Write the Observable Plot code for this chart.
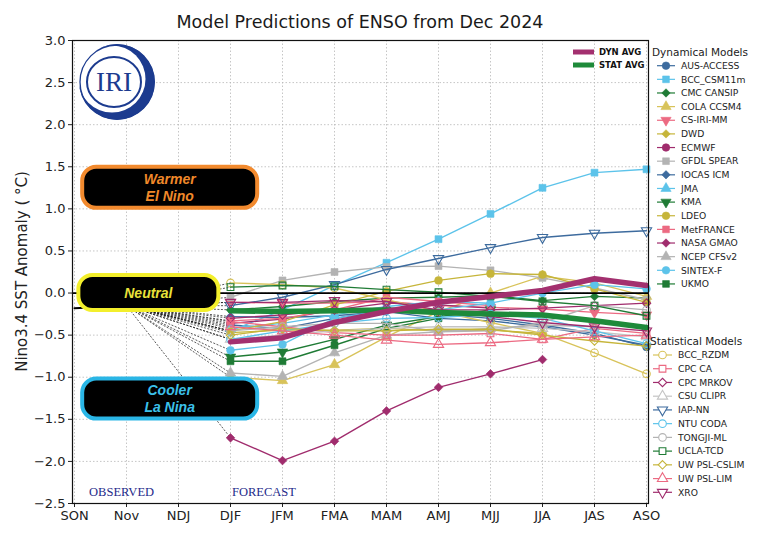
<!DOCTYPE html>
<html><head><meta charset="utf-8">
<script src="https://cdn.jsdelivr.net/npm/d3@7"></script>
<script src="https://cdn.jsdelivr.net/npm/@observablehq/plot@0.6"></script>
<style>
body{margin:0;background:#fff;width:760px;height:540px;overflow:hidden;font-family:"DejaVu Sans",sans-serif;}
#title{height:30px;width:720px;box-sizing:border-box;padding-top:14px;text-align:center;font-size:17.5px;color:#1a1a1a;line-height:17px;}
#chart svg{display:block;}
</style></head><body>
<div id="title">Model Predictions of ENSO from Dec 2024</div>
<div id="chart"></div>
<script>
// ---------- data ----------
const seasons = ["SON","Nov","NDJ","DJF","JFM","FMA","MAM","AMJ","MJJ","JJA","JAS","ASO"];
const forecastSeasons = ["DJF","JFM","FMA","MAM","AMJ","MJJ","JJA","JAS","ASO"];
const yTicks = [-2.5,-2,-1.5,-1,-0.5,0,0.5,1,1.5,2,2.5,3];
const observedSeasons = ["SON","Nov"];
const observedValues = [-0.18,-0.15];

const dynNames = ["AUS-ACCESS","BCC_CSM11m","CMC CANSIP","COLA CCSM4","CS-IRI-MM","DWD","ECMWF","GFDL SPEAR","IOCAS ICM","JMA","KMA","LDEO","MetFRANCE","NASA GMAO","NCEP CFSv2","SINTEX-F","UKMO"];
const dynValues = [
  [-0.38,-0.42,-0.30,-0.20,-0.25,-0.30,-0.38,-0.48,-0.64],
  [-0.45,-0.20,0.09,0.36,0.64,0.94,1.25,1.43,1.47],
  [-0.20,-0.16,-0.10,-0.06,-0.05,-0.03,-0.09,-0.04,-0.06],
  [-1.00,-1.04,-0.85,-0.52,-0.22,0.00,0.20,0.12,-0.04],
  [-0.11,-0.12,-0.12,-0.10,-0.15,-0.17,-0.19,-0.23,-0.26],
  [-0.47,-0.44,-0.44,-0.42,-0.45,-0.44,-0.48,null,null],
  [-0.36,-0.31,-0.20,-0.12,-0.14,-0.18,null,null,null],
  [-0.05,0.15,0.25,0.31,0.32,0.27,0.18,0.06,-0.08],
  [-0.28,-0.29,-0.27,-0.22,-0.30,-0.33,-0.40,-0.50,-0.62],
  [-0.42,-0.36,-0.26,-0.16,-0.10,-0.12,null,null,null],
  [-0.76,-0.70,-0.55,-0.38,-0.28,-0.20,null,null,null],
  [-0.45,-0.34,-0.14,0.02,0.15,0.23,0.22,0.05,-0.11],
  [-0.33,-0.30,-0.20,-0.05,-0.10,-0.15,null,null,null],
  [-1.72,-1.99,-1.76,-1.40,-1.12,-0.96,-0.79,null,null],
  [-0.95,-0.99,-0.71,-0.50,-0.46,-0.42,-0.38,-0.40,null],
  [-0.68,-0.61,-0.30,-0.20,-0.20,-0.12,0.00,0.10,0.05],
  [-0.81,-0.81,-0.62,-0.42,-0.30,null,null,null,null]
];
const statNames = ["BCC_RZDM","CPC CA","CPC MRKOV","CSU CLIPR","IAP-NN","NTU CODA","TONGJI-ML","UCLA-TCD","UW PSL-CSLIM","UW PSL-LIM","XRO"];
const statValues = [
  [0.12,0.10,0.06,-0.08,-0.22,-0.35,-0.48,-0.71,-0.96],
  [-0.34,-0.40,-0.47,-0.50,-0.50,-0.48,-0.55,-0.42,-0.48],
  [-0.30,-0.26,-0.20,-0.18,-0.20,-0.20,-0.18,-0.15,-0.12],
  [-0.55,-0.50,-0.45,-0.42,-0.40,-0.40,-0.42,-0.46,-0.52],
  [-0.15,-0.05,0.10,0.28,0.41,0.54,0.66,0.71,0.74],
  [-0.55,-0.45,-0.36,-0.30,-0.29,-0.25,-0.30,-0.45,-0.60],
  [-0.45,-0.40,-0.36,-0.36,-0.46,-0.45,-0.35,-0.15,-0.20],
  [0.07,0.09,0.08,0.04,0.01,-0.04,-0.10,-0.15,-0.27],
  [-0.50,-0.42,-0.45,-0.45,-0.43,-0.43,-0.50,-0.57,-0.63],
  [-0.40,-0.45,-0.50,-0.56,-0.61,-0.59,-0.55,-0.52,-0.50],
  [-0.11,-0.11,-0.09,-0.10,-0.20,-0.28,-0.35,-0.40,-0.45]
];
const dynAvg = [-0.58,-0.53,-0.35,-0.22,-0.11,-0.04,0.03,0.17,0.09];
const statAvg = [-0.21,-0.22,-0.21,-0.20,-0.23,-0.25,-0.26,-0.33,-0.41];

// ---------- styles ----------
const sqrt3 = Math.sqrt(3);
const triangleDown = {draw(ctx, size){ const y = -Math.sqrt(size/(sqrt3*3)); ctx.moveTo(0,-y*2); ctx.lineTo(-sqrt3*y,y); ctx.lineTo(sqrt3*y,y); ctx.closePath(); }};
const symMap = {circle: d3.symbolCircle, square: d3.symbolSquare, diamond2: d3.symbolDiamond2, triangle: d3.symbolTriangle, tdown: triangleDown};
const C = {blue:"#3d6b9e", cyan:"#5cc3ea", green:"#1f7b35", gold:"#d8c35a", pink:"#ec6a82", olive:"#c6b53a", mag:"#a02c6d", gray:"#b3b3b3", lgray:"#c4c4c4"};
const dynColors = [C.blue,C.cyan,C.green,C.gold,C.pink,C.olive,C.mag,C.gray,C.blue,C.cyan,C.green,C.olive,C.pink,C.mag,C.gray,C.cyan,C.green];
const dynSymbols = ["circle","square","diamond2","triangle","tdown","diamond2","circle","square","diamond2","triangle","tdown","circle","square","diamond2","triangle","circle","square"];
const statColors = [C.gold,C.pink,C.mag,C.lgray,C.blue,C.cyan,C.gray,C.green,C.olive,C.pink,C.mag];
const statSymbols = ["circle","square","diamond2","triangle","tdown","circle","circle","square","diamond2","triangle","tdown"];

function rowsOf(vals){ return vals.map((v,i)=>({s: forecastSeasons[i], v})).filter(d=>d.v!=null); }

const marks = [];
// grid
marks.push(Plot.ruleY(yTicks, {stroke:"#b8b8b8", strokeWidth:0.8, strokeDasharray:"1.5,2"}));
marks.push(Plot.ruleX(seasons, {x: d=>d, stroke:"#b8b8b8", strokeWidth:0.8, strokeDasharray:"1.5,2"}));
// dashed links from observation to first forecast
const linkRows = dynValues.concat(statValues).map(v=>({x1:"Nov", y1:observedValues[1], x2:"DJF", y2:v[0]}));
marks.push(Plot.link(linkRows, {x1:"x1", y1:"y1", x2:"x2", y2:"y2", stroke:"#111", strokeWidth:0.7, strokeDasharray:"2,1.5"}));
// observed
marks.push(Plot.line(observedSeasons.map((s,i)=>({s, v:observedValues[i]})), {x:"s", y:"v", stroke:"black", strokeWidth:2}));
// models
dynValues.forEach((vals,k)=>{
  const r = rowsOf(vals);
  marks.push(Plot.line(r, {x:"s", y:"v", stroke:dynColors[k], strokeWidth:1.35}));
  marks.push(Plot.dot(r, {x:"s", y:"v", symbol: symMap[dynSymbols[k]], r:3.9, fill:dynColors[k], stroke:dynColors[k], strokeWidth:0.6}));
});
statValues.forEach((vals,k)=>{
  const r = rowsOf(vals);
  marks.push(Plot.line(r, {x:"s", y:"v", stroke:statColors[k], strokeWidth:1.35}));
  marks.push(Plot.dot(r, {x:"s", y:"v", symbol: symMap[statSymbols[k]], r:3.8, fill:"none", stroke:statColors[k], strokeWidth:1.1}));
});
// zero line
marks.push(Plot.ruleY([0], {stroke:"black", strokeWidth:1.8}));
// averages
marks.push(Plot.line(rowsOf(statAvg), {x:"s", y:"v", stroke:"#1e8a3a", strokeWidth:5.5}));
marks.push(Plot.line(rowsOf(dynAvg), {x:"s", y:"v", stroke:"#a3306f", strokeWidth:5.5}));
marks.push(Plot.frame({stroke:"#111", strokeWidth:1.2}));

// overlay: logo, category boxes, labels, legends
function overlay(index, scales, values, dims){
  const {width, height, marginLeft, marginRight, marginTop, marginBottom} = dims;
  const sx = scales.x, sy = scales.y;
  const step = sx(seasons[1]) - sx(seasons[0]);
  const x0 = sx(seasons[0]);
  const g = d3.create("svg:g").attr("text-anchor","start").attr("font-family","DejaVu Sans, sans-serif");
  // IRI logo
  const lx = marginLeft + 45, ly = marginTop + 42;
  const logo = g.append("g");
  logo.append("circle").attr("cx",lx).attr("cy",ly).attr("r",38).attr("fill","#1c3b8f");
  logo.append("circle").attr("cx",lx-5).attr("cy",ly-3).attr("r",33.5).attr("fill","white");
  logo.append("circle").attr("cx",lx).attr("cy",ly).attr("r",37).attr("fill","none").attr("stroke","#1c3b8f").attr("stroke-width",1.3);
  logo.append("ellipse").attr("cx",lx-3).attr("cy",ly).attr("rx",27).attr("ry",25).attr("fill","none").attr("stroke","#1c3b8f").attr("stroke-width",2);
  logo.append("text").attr("x",lx-3).attr("y",ly+9).attr("text-anchor","middle").attr("font-family","Liberation Serif, serif").attr("font-size",27).attr("fill","#1c3b8f").text("IRI");
  // boxes
  const boxes = [
    {cx: x0+1.84*step, cy: sy(1.25), w:175, h:41, color:"#f28a2e", tcolor:"#f0892a", lines:["Warmer","El Nino"]},
    {cx: x0+1.43*step, cy: sy(0), w:140, h:35, color:"#f3ef2c", tcolor:"#e9e23a", lines:["Neutral"]},
    {cx: x0+1.84*step, cy: sy(-1.26), w:175, h:40, color:"#2ab6e6", tcolor:"#3cc0ea", lines:["Cooler","La Nina"]}
  ];
  for (const b of boxes){
    g.append("rect").attr("x",b.cx-b.w/2).attr("y",b.cy-b.h/2).attr("width",b.w).attr("height",b.h)
      .attr("rx",14).attr("fill","black").attr("stroke",b.color).attr("stroke-width",4);
    b.lines.forEach((t,i)=>{
      const dy = (i - (b.lines.length-1)/2)*17;
      g.append("text").attr("x",b.cx).attr("y",b.cy+dy).attr("dy","0.36em").attr("text-anchor","middle")
        .attr("font-family","Liberation Sans, Arial, sans-serif").attr("font-weight","bold").attr("font-style","italic")
        .attr("font-size",14).attr("fill",b.tcolor).text(t);
    });
  }
  // OBSERVED / FORECAST
  const ty = sy(-2.37);
  g.append("text").attr("x",x0+0.29*step).attr("y",ty).attr("dy","0.35em").attr("font-family","Liberation Serif, serif").attr("font-size",12.5).attr("fill","#1e2a8a").text("OBSERVED");
  g.append("text").attr("x",sx("DJF")+2).attr("y",ty).attr("dy","0.35em").attr("font-family","Liberation Serif, serif").attr("font-size",12.5).attr("fill","#1e2a8a").text("FORECAST");
  // avg legend
  const right = width - marginRight;
  [["DYN AVG","#a3306f"],["STAT AVG","#1e8a3a"]].forEach(([t,c],i)=>{
    const y = marginTop + 12 + i*13;
    g.append("line").attr("x1",right-75).attr("x2",right-54).attr("y1",y).attr("y2",y).attr("stroke",c).attr("stroke-width",5);
    g.append("text").attr("x",right-49).attr("y",y).attr("dy","0.35em").attr("font-size",8.5).attr("font-weight","bold").attr("fill","#111").text(t);
  });
  // model legends
  function legend(title, names, colors, symbols, open, tx, ty0, lx1, lx2, yStart, dy){
    g.append("text").attr("x",tx).attr("y",ty0).attr("dy","0.35em").attr("font-size",10.5).attr("fill","#222").text(title);
    names.forEach((n,i)=>{
      const y = yStart + i*dy;
      g.append("line").attr("x1",lx1).attr("x2",lx2).attr("y1",y).attr("y2",y).attr("stroke",colors[i]).attr("stroke-width",1.2);
      const sym = d3.symbol().type(symMap[symbols[i]]).size(Math.PI*3.8*3.8);
      g.append("path").attr("d",sym()).attr("transform",`translate(${(lx1+lx2)/2},${y})`)
        .attr("fill", open ? "white" : colors[i]).attr("stroke",colors[i]).attr("stroke-width", open?1.1:0.6);
      g.append("text").attr("x",lx2+6).attr("y",y).attr("dy","0.35em").attr("font-size",9.2).attr("fill","#222").text(n);
    });
  }
  legend("Dynamical Models", dynNames, dynColors, dynSymbols, false, right+4, marginTop+12, right+9, right+27, marginTop+25.7, 13.64);
  legend("Statistical Models", statNames, statColors, statSymbols, true, right+2, marginTop+301.7, right+5, right+24, marginTop+315, 13.73);
  // y label
  g.append("text").attr("transform",`translate(${marginLeft-50},${(marginTop+height-marginBottom)/2}) rotate(-90)`)
    .attr("text-anchor","middle").attr("dy","0.35em").attr("font-size",15).attr("fill","#222").text("Nino3.4 SST Anomaly ( °C)");
  return g.node();
}
marks.push(overlay);

const chart = Plot.plot({
  width: 760, height: 510,
  marginTop: 10, marginBottom: 37, marginLeft: 72, marginRight: 112,
  style: {fontFamily: "DejaVu Sans, sans-serif", fontSize: "13px", color: "#222", background: "white"},
  x: {type: "point", domain: seasons, padding: 0, label: null, tickSize: 4, tickPadding: 3},
  y: {domain: [-2.5, 3], ticks: yTicks, tickFormat: d3.format(".1f"), label: null, tickSize: 4, tickPadding: 3},
  marks
});
document.getElementById("chart").appendChild(chart);
</script>
</body></html>
